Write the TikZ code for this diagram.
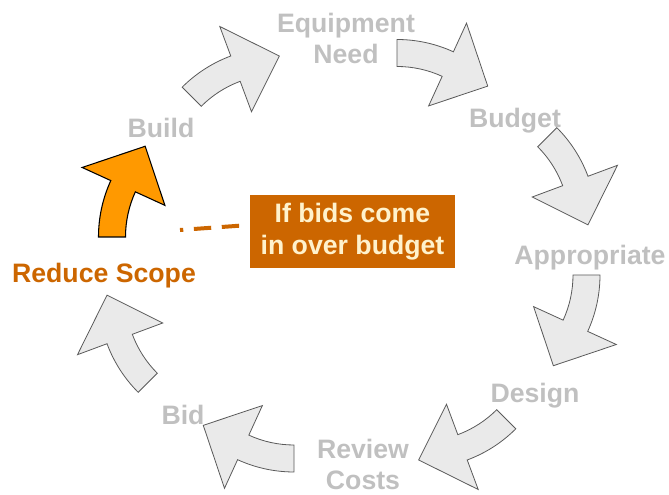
\documentclass[tikz,border=0pt]{standalone}
\usepackage{fontspec}
\setmainfont{Liberation Sans}
\definecolor{cgreyfill}{HTML}{EAEAEA}
\definecolor{cgreyline}{HTML}{5A5A5A}
\definecolor{clabel}{HTML}{C0C0C0}
\definecolor{corange}{HTML}{FF9900}
\definecolor{crust}{HTML}{CC6600}
\definecolor{ccream}{HTML}{FFF2CC}
\tikzset{
  every picture/.style={font=\bfseries\fontsize{20}{23.25}\selectfont},
  steplabel/.style={text=clabel, align=center, inner sep=0pt},
  grey arrow/.style={draw=cgreyline, fill=cgreyfill, line width=0.6pt},
  hot arrow/.style={draw=black, fill=corange, line width=0.8pt},
  pics/cyclearrow/.style={code={
    \draw[pic actions] (#1:135.5) arc[start angle=#1, end angle=#1-24.6, radius=135.5]
      -- ({#1-24.6}:167) -- ({#1-45.6}:127) -- ({#1-24.6}:76) -- ({#1-24.6}:108.5)
      arc[start angle=#1-24.6, end angle=#1, radius=108.5] -- cycle;
  }},
  ifbox/.style={fill=crust, text=ccream, align=center, minimum width=153.75pt, minimum height=54.75pt, inner sep=0pt,
    font=\bfseries\fontsize{20}{24}\selectfont},
  dashline/.style={draw=crust, line width=3pt, dash pattern=on 13pt off 8pt, dash phase=13pt},
}

\begin{document}
\begin{tikzpicture}[x=0.75pt, y=0.75pt]
  \useasboundingbox (0,0) rectangle (669,495);
  % the cycle of steps
  \pic[grey arrow] at (278,312) {cyclearrow=135};
  \pic[grey arrow] at (397,320) {cyclearrow=90};
  \pic[grey arrow] at (461,271.5) {cyclearrow=45};
  \pic[grey arrow] at (464.5,220) {cyclearrow=0};
  \pic[grey arrow] at (420,162) {cyclearrow=-45};
  \pic[grey arrow] at (294,158.5) {cyclearrow=-90};
  \pic[grey arrow] at (234,198.5) {cyclearrow=-135};
  \pic[hot arrow] at (234,258) {cyclearrow=180};
  % step labels
  \node[steplabel] (need) at (346,456.5) {Equipment\\Need};
  \node[steplabel] (budget) at (515,374) {Budget};
  \node[steplabel] (approp) at (590,237.5) {Appropriate};
  \node[steplabel] (design) at (535,99) {Design};
  \node[steplabel] (review) at (363,30.5) {Review\\Costs};
  \node[steplabel] (bid) at (183,80.5) {Bid};
  \node[steplabel, text=crust] (reduce) at (104,219.5) {Reduce Scope};
  \node[steplabel] (build) at (161,367.5) {Build};
  % the condition
  \node[ifbox] (box) at (352.5,263.5) {If bids come\\in over budget};
  \coordinate (dashend) at (180,265);
  \draw[dashline] ([yshift=4.9pt]box.west) -- (dashend);
\end{tikzpicture}
\end{document}
